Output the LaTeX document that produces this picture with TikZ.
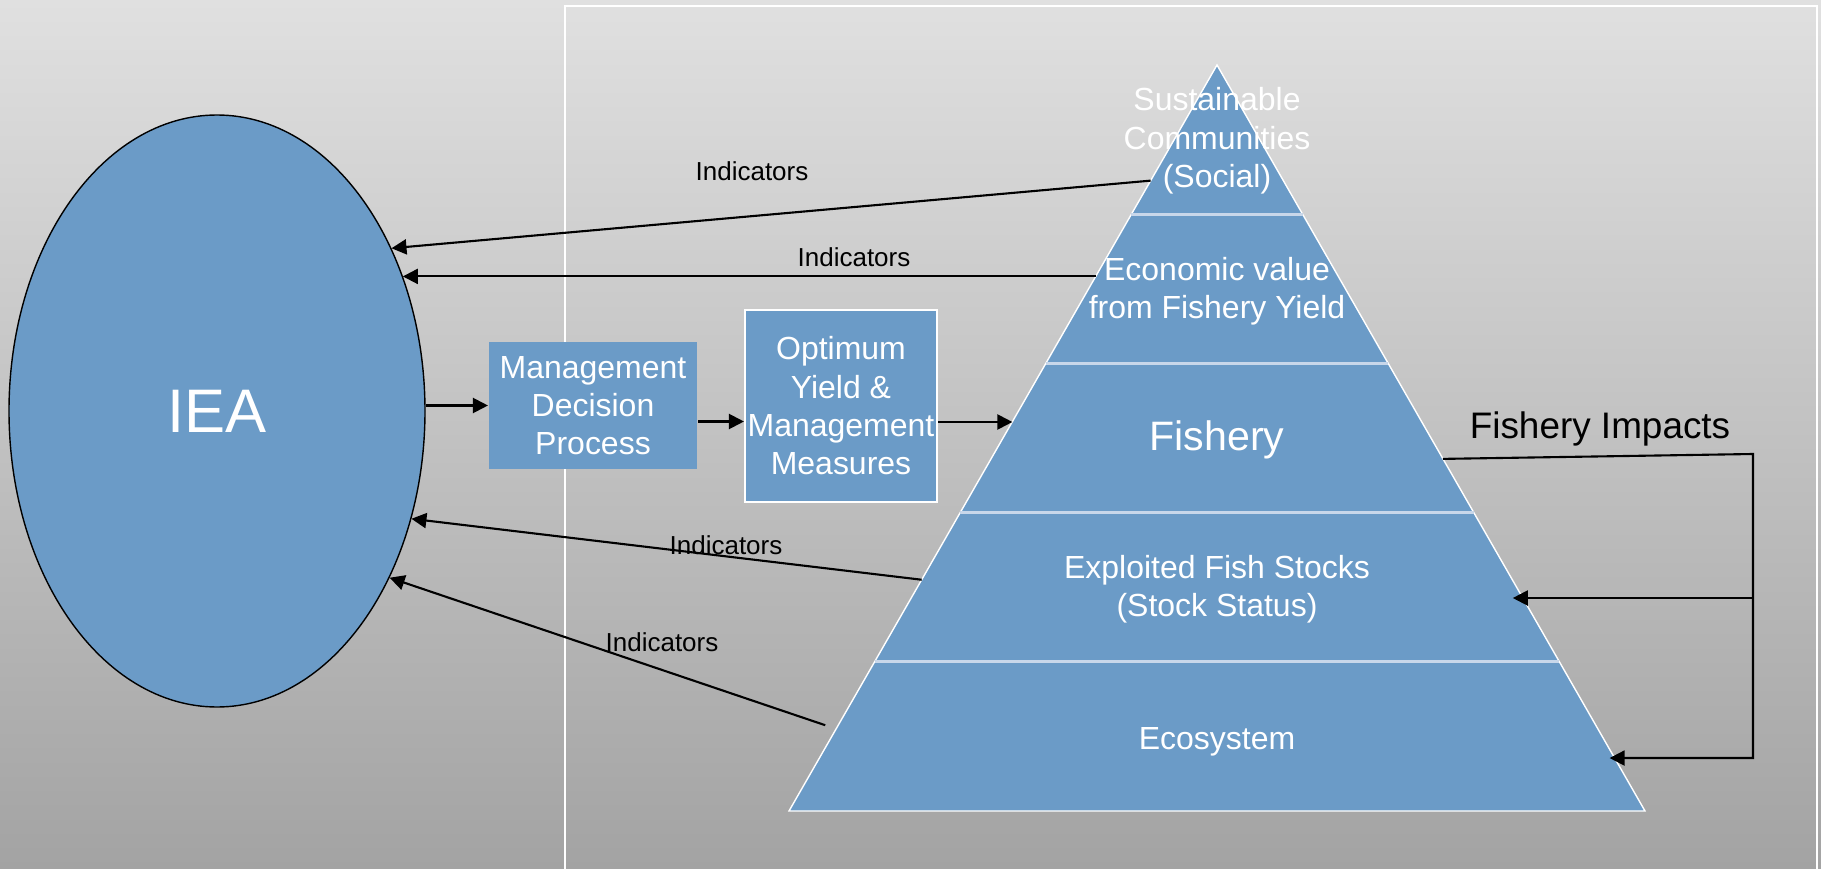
\documentclass[tikz,border=0pt]{standalone}
\usepackage{fontspec}
\setmainfont{Liberation Sans}
\usetikzlibrary{arrows.meta,calc,shapes.geometric}
\definecolor{iceblue}{RGB}{107,155,199}
\definecolor{bgtop}{RGB}{224,224,224}
\definecolor{bgbot}{RGB}{163,163,163}
\definecolor{layerline}{RGB}{200,215,234}
\newcommand{\smalltxt}{\fontsize{9.1}{10.9}\selectfont}

\begin{document}
\begin{tikzpicture}
            [>={Triangle[length=1.5mm,width=1.5mm]}, semithick,
             box/.style={fill=iceblue, text=white, align=center, inner sep=0pt, font=\smalltxt},
             level/.style={text=white, align=center, font=\smalltxt},
             tag/.style={font=\fontsize{7.4}{9}\selectfont}]
            \useasboundingbox (0,0) rectangle (18.21,-8.69);
            \shade[top color=bgtop, bottom color=bgbot] (0,0) rectangle (18.21,-8.69);
            \draw[white] (5.65,-8.69) -- (5.65,-0.06) -- (18.17,-0.06) -- (18.17,-8.69);

            % pyramid
            \coordinate (apex) at (12.17,-0.65);
            \coordinate (bl) at (7.89,-8.11);
            \coordinate (br) at (16.45,-8.11);
            \filldraw[fill=iceblue, draw=white, thin] (apex) -- (bl) -- (br) -- cycle;
            \draw[layerline, thick] ($(apex)!0.2!(bl)$) -- ($(apex)!0.2!(br)$);
            \draw[layerline, thick] ($(apex)!0.4!(bl)$) -- ($(apex)!0.4!(br)$);
            \draw[layerline, thick] ($(apex)!0.6!(bl)$) -- ($(apex)!0.6!(br)$);
            \draw[layerline, thick] ($(apex)!0.8!(bl)$) -- ($(apex)!0.8!(br)$);

            \node[level] (social) at (12.17,-1.41) {Sustainable\\Communities\\(Social)};
            \node[level] (economic) at (12.17,-2.91) {Economic value\\from Fishery Yield};
            \node[level, font=\fontsize{11.7}{14}\selectfont] (fishery) at (12.17,-4.40) {Fishery};
            \node[level] (stocks) at (12.17,-5.89) {Exploited Fish Stocks\\(Stock Status)};
            \node[level] (ecosystem) at (12.17,-7.42) {Ecosystem};

            % left side
            \node[ellipse, fill=iceblue, draw=black, thin, minimum width=4.16cm, minimum height=5.92cm,
                  inner sep=0pt, text=white, font=\fontsize{17.5}{21}\selectfont] (iea) at (2.17,-4.11) {IEA};
            \node[box, minimum width=2.08cm, minimum height=1.27cm] (mdp) at (5.93,-4.055) {Management\\Decision\\Process};
            \node[box, draw=white, minimum width=1.92cm, minimum height=1.92cm] (oy) at (8.41,-4.06) {Optimum\\Yield \&\\Management\\Measures};

            \node[tag] (ind1) at (7.52,-1.71) {Indicators};
            \node[tag] (ind2) at (8.54,-2.57) {Indicators};
            \node[tag] (ind3) at (7.26,-5.45) {Indicators};
            \node[tag] (ind4) at (6.62,-6.42) {Indicators};
            \node[font=\fontsize{10.5}{12.6}\selectfont] (impacts) at (16.00,-4.29) {Fishery Impacts};

            % points on the pyramid edges
            \coordinate (s1) at ($(apex)!0.155!(bl)$);
            \coordinate (e1) at ($(apex)!0.2834!(bl)$);
            \coordinate (f1) at ($(apex)!0.478!(bl)$);
            \coordinate (x1) at ($(apex)!0.690!(bl)$);
            \coordinate (c1) at ($(apex)!0.885!(bl)+(-0.13,0)$);
            \coordinate (f2) at ($(apex)!0.528!(br)$);
            \coordinate (x2) at ($(apex)!0.7145!(br)+(-0.1,0)$);
            \coordinate (c2) at ($(apex)!0.929!(br)+(-0.05,0)$);
            \coordinate (turn) at (17.53,-4.54);

            \draw[->] (iea.east |- mdp.west) -- (mdp.west);
            \draw[->] ([yshift=-1.6mm]mdp.east) -- ([yshift=-1.6mm]mdp.east -| oy.west);
            \draw[->] ([yshift=-1.6mm]oy.east) -- ([yshift=-1.6mm]oy.east -| f1);

            \draw[->] (s1) -- (iea.43);
            \draw[->] (e1) -- (e1 -| iea.36);
            \draw[->] (x1) -- (iea.-29);
            \draw[->] (c1) -- (iea.-44);

            \draw[->] (f2) -- (turn) -- (turn |- c2) -- (c2);
            \draw[->] (turn |- x2) -- (x2);
        \end{tikzpicture}
\end{document}
